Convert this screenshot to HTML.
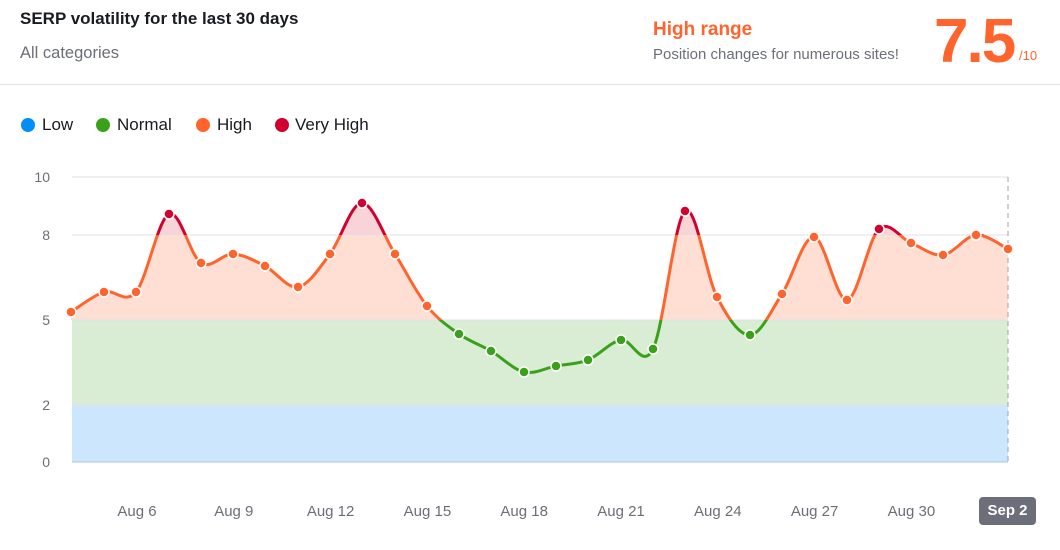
<!DOCTYPE html>
<html><head><meta charset="utf-8"><style>
body{margin:0;width:1060px;height:550px;background:#fff;font-family:"Liberation Sans",sans-serif;overflow:hidden;position:relative}
.a{position:absolute;white-space:nowrap}
.d{position:absolute;top:118px;width:14px;height:14px;border-radius:7px}
.l{position:absolute;top:115px;font-size:17px;color:#191b23}
</style></head><body>
<div class="a" style="left:20px;top:9px;font-size:17px;font-weight:bold;color:#191b23">SERP volatility for the last 30 days</div>
<div class="a" style="left:20px;top:44px;font-size:16.5px;color:#6c6e79">All categories</div>
<div class="a" style="left:653px;top:19px;font-size:19px;font-weight:bold;color:#ff642d">High range</div>
<div class="a" style="left:653px;top:46px;font-size:15px;color:#6c6e79">Position changes for numerous sites!</div>
<div class="a" style="left:934px;top:6px;font-size:62px;font-weight:bold;color:#ff642d;letter-spacing:-2px">7.5</div>
<div class="a" style="left:1019px;top:48px;font-size:13px;color:#ff642d">/10</div>
<div class="a" style="left:0;top:84px;width:1060px;height:1px;background:#e0e1e9"></div>
<div class="d" style="left:21px;background:#008ff8"></div><div class="l" style="left:42px">Low</div>
<div class="d" style="left:96px;background:#3aa11b"></div><div class="l" style="left:117px">Normal</div>
<div class="d" style="left:196px;background:#ff642d"></div><div class="l" style="left:217px">High</div>
<div class="d" style="left:275px;background:#d1002f"></div><div class="l" style="left:295px">Very High</div>
<svg width="1060" height="550" style="position:absolute;left:0;top:0" id="s" font-family="Liberation Sans, sans-serif"></svg>
<div class="a" style="left:979px;top:497px;width:57px;height:28px;border-radius:4px;background:#6c6e79;color:#fff;font-size:15px;font-weight:bold;text-align:center;line-height:28px">Sep 2</div>
<script>
var P=[[71,312],[104,292],[136,292],[169,214],[201,263],[233,254],[265,266],[298,287],[330,254],[362,203],[395,254],[427,306],[459,334],[491,351],[524,372],[556,366],[588,360],[621,340],[653,349],[685,211],[717,297],[750,335],[782,294],[814,237],[847,300],[879,229],[911,243],[943,255],[976,235],[1008,249]];
var d="M"+P[0];
for(var i=0;i<P.length-1;i++){var p0=P[Math.max(i-1,0)],p1=P[i],p2=P[i+1],p3=P[Math.min(i+2,P.length-1)];var t=6;
d+=" C"+(p1[0]+(p2[0]-p0[0])/t)+","+(p1[1]+(p2[1]-p0[1])/t)+" "+(p2[0]-(p3[0]-p1[0])/t)+","+(p2[1]-(p3[1]-p1[1])/t)+" "+p2[0]+","+p2[1];}
var area=d+" L1008,462 L71,462 Z";
var h='<defs><clipPath id="r"><rect x="0" y="0" width="1060" height="235"/></clipPath><clipPath id="o"><rect x="0" y="235" width="1060" height="85"/></clipPath><clipPath id="g"><rect x="0" y="320" width="1060" height="200"/></clipPath></defs>';
h+='<rect x="72" y="320" width="936" height="85" fill="#d9ecd4"/><rect x="72" y="405" width="936" height="57" fill="#cce7fd"/>';
h+='<path d="'+area+'" fill="#ffded3" clip-path="url(#o)"/><path d="'+area+'" fill="#f8d4d9" clip-path="url(#r)"/>';
[[177,10],[235,8],[320,5],[405,2],[462,0]].forEach(function(g){h+='<line x1="72" x2="1008" y1="'+g[0]+'" y2="'+g[0]+'" stroke="'+(g[1]==0?'#a8c6e6':'#e0e1e9')+'"/><text x="50" y="'+(g[0]+5)+'" font-size="14" fill="#6c6e79" text-anchor="end">'+g[1]+'</text>';});
h+='<line x1="1008" x2="1008" y1="177" y2="462" stroke="#a0a2ab" stroke-dasharray="5,4"/>';
[["#d1002f","r"],["#ff642d","o"],["#3aa11b","g"]].forEach(function(c){h+='<path d="'+d+'" fill="none" stroke="'+c[0]+'" stroke-width="3" clip-path="url(#'+c[1]+')"/>';});
P.forEach(function(p){var c=p[1]<235?"#d1002f":p[1]<=320?"#ff642d":"#3aa11b";h+='<circle cx="'+p[0]+'" cy="'+p[1]+'" r="5" fill="'+c+'" stroke="#fff" stroke-width="1.5"/>';});
var L=["Aug 6","Aug 9","Aug 12","Aug 15","Aug 18","Aug 21","Aug 24","Aug 27","Aug 30"];
L.forEach(function(l,i){h+='<text x="'+(137+i*96.8)+'" y="516" font-size="15" fill="#6c6e79" text-anchor="middle">'+l+'</text>';});
document.getElementById("s").innerHTML=h;
</script>
</body></html>
